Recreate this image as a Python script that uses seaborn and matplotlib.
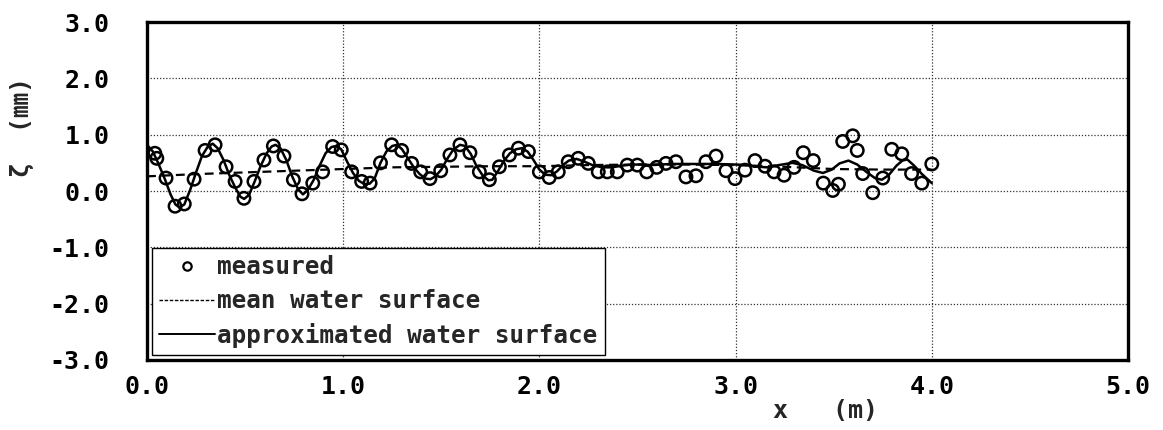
import matplotlib
matplotlib.use('Agg')
import matplotlib.pyplot as plt
import pandas as pd
import seaborn as sns
from matplotlib.lines import Line2D

# measured water surface elevation (mm) along the flume (m)
x_meas = [0.04, 0.05, 0.097, 0.143, 0.19, 0.24, 0.296, 0.347, 0.403, 0.449,
          0.494, 0.545, 0.596, 0.644, 0.698, 0.746, 0.79, 0.845, 0.895, 0.946,
          0.99, 1.043, 1.094, 1.137, 1.19, 1.247, 1.298, 1.349, 1.395, 1.442,
          1.497, 1.544, 1.595, 1.646, 1.694, 1.745, 1.796, 1.847, 1.893, 1.944,
          2.0, 2.05, 2.096, 2.147, 2.198, 2.249, 2.30, 2.346, 2.397, 2.448,
          2.499, 2.547, 2.598, 2.645, 2.696, 2.747, 2.798, 2.849, 2.90, 2.951,
          2.997, 3.048, 3.099, 3.15, 3.196, 3.247, 3.298, 3.345, 3.396, 3.447,
          3.495, 3.524, 3.546, 3.597, 3.62, 3.648, 3.699, 3.75, 3.796, 3.847,
          3.897, 3.949, 4.0]
z_meas = [0.67, 0.58, 0.23, -0.27, -0.23, 0.21, 0.72, 0.82, 0.43, 0.17,
          -0.13, 0.17, 0.55, 0.80, 0.62, 0.20, -0.05, 0.14, 0.34, 0.79,
          0.73, 0.34, 0.17, 0.14, 0.50, 0.82, 0.72, 0.49, 0.34, 0.22,
          0.36, 0.64, 0.82, 0.68, 0.34, 0.20, 0.43, 0.64, 0.76, 0.70,
          0.34, 0.24, 0.34, 0.52, 0.58, 0.49, 0.34, 0.34, 0.34, 0.46,
          0.46, 0.34, 0.42, 0.49, 0.52, 0.25, 0.27, 0.52, 0.62, 0.36,
          0.22, 0.37, 0.54, 0.44, 0.34, 0.28, 0.42, 0.68, 0.54, 0.14,
          0.01, 0.12, 0.88, 0.98, 0.72, 0.31, -0.03, 0.23, 0.74, 0.66,
          0.31, 0.14, 0.48]

# mean water surface
x_mean = [0.0, 0.25, 0.5, 0.75, 1.0, 1.25, 1.5, 1.75, 2.0, 2.25, 2.5, 2.75,
          3.0, 3.25, 3.5, 3.75, 4.0]
z_mean = [0.26, 0.30, 0.33, 0.36, 0.39, 0.42, 0.43, 0.44, 0.44, 0.46, 0.47,
          0.47, 0.46, 0.43, 0.39, 0.38, 0.38]

# approximated water surface
x_appr = [0.00, 0.03, 0.06, 0.09, 0.12, 0.145, 0.165, 0.19, 0.22, 0.25,
          0.28, 0.31, 0.335, 0.36, 0.39, 0.42, 0.45, 0.475, 0.495, 0.52,
          0.55, 0.58, 0.61, 0.635, 0.655, 0.68, 0.71, 0.74, 0.77, 0.795,
          0.82, 0.85, 0.88, 0.91, 0.94, 0.965, 0.99, 1.02, 1.05, 1.08,
          1.11, 1.135, 1.16, 1.19, 1.22, 1.25, 1.275, 1.30, 1.33, 1.36,
          1.39, 1.42, 1.445, 1.47, 1.50, 1.53, 1.56, 1.595, 1.62, 1.65,
          1.68, 1.71, 1.74, 1.76, 1.79, 1.82, 1.85, 1.88, 1.91, 1.94,
          1.97, 2.00, 2.03, 2.06, 2.09, 2.12, 2.15, 2.19, 2.23, 2.27,
          2.32, 2.37, 2.42, 2.47, 2.52, 2.57, 2.62, 2.67, 2.72, 2.80,
          2.90, 3.00, 3.06, 3.12, 3.16, 3.22, 3.29, 3.34, 3.40, 3.445,
          3.49, 3.53, 3.575, 3.62, 3.67, 3.71, 3.745, 3.78, 3.82, 3.85,
          3.875, 3.91, 3.95, 4.00]
z_appr = [0.82, 0.70, 0.47, 0.22, -0.06, -0.24, -0.29, -0.24, 0.02, 0.33,
          0.62, 0.79, 0.84, 0.76, 0.55, 0.28, 0.06, -0.10, -0.14, -0.07,
          0.18, 0.45, 0.67, 0.79, 0.82, 0.76, 0.55, 0.26, 0.03, -0.06,
          0.02, 0.20, 0.45, 0.67, 0.78, 0.80, 0.74, 0.52, 0.32, 0.18,
          0.12, 0.13, 0.22, 0.50, 0.70, 0.80, 0.82, 0.74, 0.58, 0.42,
          0.30, 0.22, 0.21, 0.26, 0.38, 0.57, 0.73, 0.82, 0.80, 0.66,
          0.44, 0.28, 0.19, 0.20, 0.36, 0.54, 0.67, 0.74, 0.76, 0.70,
          0.55, 0.38, 0.29, 0.28, 0.35, 0.46, 0.54, 0.57, 0.52, 0.46,
          0.42, 0.42, 0.45, 0.47, 0.47, 0.46, 0.47, 0.48, 0.48, 0.48,
          0.48, 0.47, 0.46, 0.43, 0.42, 0.46, 0.50, 0.46, 0.36, 0.32,
          0.38, 0.49, 0.54, 0.47, 0.33, 0.23, 0.20, 0.28, 0.45, 0.54,
          0.56, 0.45, 0.30, 0.14]

x_ticks = [0, 1, 2, 3, 4, 5]
y_ticks = [-3, -2, -1, 0, 1, 2, 3]

meas = pd.DataFrame({'x': x_meas, 'z': z_meas})
mean = pd.DataFrame({'x': x_mean, 'z': z_mean})
appr = pd.DataFrame({'x': x_appr, 'z': z_appr})

sns.set_style('white')
plt.rcParams['font.family'] = ['DejaVu Sans Mono', 'Noto Sans CJK JP']
plt.rcParams['font.weight'] = 'bold'

fig = plt.figure(figsize=(11.63, 4.30), dpi=100)
ax = fig.add_axes([0.1264, 0.1628, 0.8435, 0.786])

sns.lineplot(data=mean, x='x', y='z', ax=ax, color='black', linewidth=1.6,
             linestyle=(0, (4, 2.5)), estimator=None, sort=False, zorder=2)
sns.lineplot(data=appr, x='x', y='z', ax=ax, color='black', linewidth=1.8,
             estimator=None, sort=False, zorder=3)
sns.scatterplot(data=meas, x='x', y='z', ax=ax, marker='o', s=80,
                facecolor='none', edgecolor='black', linewidth=1.8, zorder=4)

ax.set_xlim(0, 5)
ax.set_ylim(-3, 3)
ax.set_xticks(x_ticks)
ax.set_yticks(y_ticks)
ax.set_xticklabels([f'{v:.1f}' for v in x_ticks])
ax.set_yticklabels([f'{v:.1f}' for v in y_ticks])
ax.tick_params(axis='both', labelsize=18, direction='in', length=6, width=1,
               colors='black')
ax.tick_params(axis='y', pad=27)
ax.tick_params(axis='x', pad=11)

ax.grid(True, color='#333333', linestyle=(0, (1, 1.5)), linewidth=0.9)
for s in ax.spines.values():
    s.set_color('black')
    s.set_linewidth(2.4)

ax.set_xlabel('x   (m)', fontsize=18, fontweight='bold')
ax.xaxis.set_label_coords(0.692, -0.115)
ax.set_ylabel('ζ  (㎜)', fontsize=18, fontweight='bold')
ax.yaxis.set_label_coords(-0.115, 0.69)

handles = [
    Line2D([], [], marker='o', linestyle='none', markersize=6,
           markerfacecolor='none', markeredgecolor='black', markeredgewidth=1.6),
    Line2D([], [], color='black', linewidth=1.0, linestyle=(0, (2.5, 1.2))),
    Line2D([], [], color='black', linewidth=1.4),
]
labels = ['measured', 'mean water surface', 'approximated water surface']
leg = ax.legend(handles, labels, loc='lower left', fontsize=17.5,
                frameon=True, fancybox=False, framealpha=1, edgecolor='black',
                handlelength=2.3, handletextpad=0.1, labelspacing=0.4,
                borderpad=0.3, borderaxespad=0.2)
leg.get_frame().set_linewidth(1.0)

fig.savefig('out.png', dpi=100)
